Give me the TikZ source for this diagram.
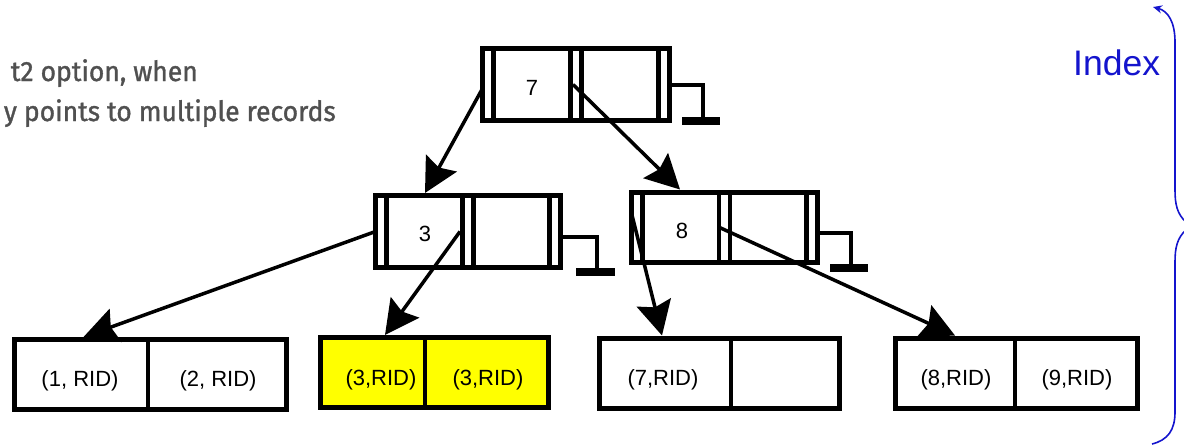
\documentclass[tikz,border=0pt]{standalone}
\usepackage{fontspec}
\setmainfont{Liberation Sans}
\newfontfamily\grayfont{Fira Sans}[FakeBold=1.2,FakeStretch=0.95]
\usetikzlibrary{arrows.meta,calc}
\definecolor{idxblue}{RGB}{20,20,205}
\definecolor{txtgray}{RGB}{80,80,80}
\definecolor{leafyellow}{RGB}{255,255,0}
\begin{document}
\begin{tikzpicture}[x=1pt,y=-1pt,
  inode/.style={draw, line width=5pt, rectangle, minimum width=187pt, minimum height=72pt, inner sep=0pt, outer sep=0pt},
  leafbox/.style={draw, line width=5pt, rectangle, minimum height=70pt, inner sep=0pt, outer sep=0pt},
  bar/.style={line width=4.5pt},
  conn/.style={line width=3.5pt, -{Stealth[length=34pt,width=35pt,inset=5pt]}},
  gline/.style={line width=4pt},
  gbar/.style={line width=7.5pt},
  lbl/.style={font=\fontsize{22}{26}\selectfont, inner sep=0pt, anchor=base},
  brace/.style={draw=idxblue, line width=1.6pt}
]
\useasboundingbox (0,0) rectangle (1184,447);

% top-left gray text (clipped at the left edge in the reference)
\node[anchor=base east, inner sep=0pt, text=txtgray, font=\grayfont\fontsize{27.9}{30}\selectfont] (t1) at (198,81) {t2 option, when};
\node[anchor=base east, inner sep=0pt, text=txtgray, font=\grayfont\fontsize{27.9}{30}\selectfont] (t2) at (336,121) {y points to multiple records};

% index nodes
\node[inode] (root) at (576,84.5) {};
\node[inode, minimum width=185pt] (n3) at (468,231.5) {};
\node[inode, minimum width=186pt, minimum height=70pt] (n8) at (724.5,227) {};

\foreach \n in {root,n3,n8}{
  \draw[bar] ([xshift=11pt]\n.north west) -- ([xshift=11pt]\n.south west);
  \draw[bar] ([xshift=-5.5pt]\n.north) -- ([xshift=-5.5pt]\n.south);
  \draw[bar] ([xshift=5.5pt]\n.north) -- ([xshift=5.5pt]\n.south);
  \draw[bar] ([xshift=-11pt]\n.north east) -- ([xshift=-11pt]\n.south east);
}

\node[lbl] (k7) at (532,95) {7};
\node[lbl] (k3) at (425,241) {3};
\node[lbl] (k8) at (682,238) {8};

% null pointers (ground symbols)
\draw[gline] (root.east) -- ++(33.5,0) -- ++(0,34);
\draw[gbar] ([xshift=12.5pt,yshift=-36.5pt]root.east) -- ++(38,0);
\draw[gline] ([yshift=-5pt]n3.east) -- ++(36.5,0) -- ++(0,32);
\draw[gbar] ([xshift=15.5pt,yshift=-40.5pt]n3.east) -- ++(39,0);
\draw[gline] ([yshift=-6pt]n8.east) -- ++(33.5,0) -- ++(0,33);
\draw[gbar] ([xshift=12.5pt,yshift=-41pt]n8.east) -- ++(38,0);

% leaves
\node[leafbox, minimum width=272pt] (l1) at (150.5,374.5) {};
\node[leafbox, minimum width=228pt, fill=leafyellow] (l2) at (434.5,372.5) {};
\node[leafbox, minimum width=240pt] (l3) at (719.5,373) {};
\node[leafbox, minimum width=242pt] (l4) at (1016.5,373) {};

\draw[bar] ([xshift=133.5pt]l1.north west) -- ([xshift=133.5pt]l1.south west);
\draw[bar] ([xshift=104.5pt]l2.north west) -- ([xshift=104.5pt]l2.south west);
\draw[bar] ([xshift=131.5pt]l3.north west) -- ([xshift=131.5pt]l3.south west);
\draw[bar] ([xshift=119.5pt]l4.north west) -- ([xshift=119.5pt]l4.south west);

\node[lbl] (e1) at (80,386) {(1, RID)};
\node[lbl] (e2) at (218,386) {(2, RID)};
\node[lbl] (e3) at (381,385) {(3,RID)};
\node[lbl] (e4) at (488,385) {(3,RID)};
\node[lbl] (e7) at (663,385) {(7,RID)};
\node[lbl] (e8) at (956,385) {(8,RID)};
\node[lbl] (e9) at (1077,385) {(9,RID)};

% pointers
\draw[conn] ([yshift=-4pt]root.west) -- ([xshift=-43pt,yshift=2.5pt]n3.north);
\draw[conn] ([xshift=-3pt]root.center) -- ([xshift=-44.5pt,yshift=2.5pt]n8.north);
\draw[conn] (n3.west) -- ([xshift=-67pt,yshift=2.5pt]l1.north);
\draw[conn] ([xshift=-8pt]n3.center) -- ([xshift=-49.5pt,yshift=2.5pt]l2.north);
\draw[conn] ([yshift=14pt]n8.west) -- ([xshift=-57.5pt,yshift=2.5pt]l3.north);
\draw[conn] ([xshift=-6pt]n8.center) -- ([xshift=-61.5pt,yshift=2.5pt]l4.north);

% Index brace
\node[anchor=base west, inner sep=0pt, text=idxblue, font=\fontsize{35.5}{40}\selectfont] (idx) at (1073,75) {Index};
\draw[brace, -{Stealth[length=9pt,width=8pt]}] (1186,222) .. controls (1177,214) and (1175,204) .. (1175,190) -- (1175,42) .. controls (1175,22) and (1168,11) .. (1153,7);
\draw[brace] (1186,230) .. controls (1177,238) and (1175,248) .. (1175,262) -- (1175,412) .. controls (1175,430) and (1168,440) .. (1152,444);
\end{tikzpicture}
\end{document}
